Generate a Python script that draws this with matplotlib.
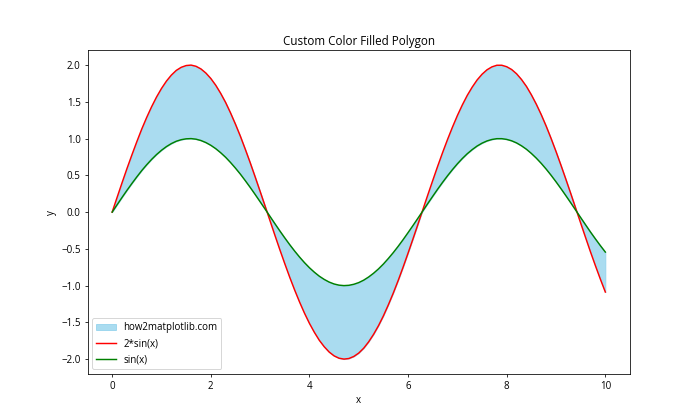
import matplotlib
matplotlib.use('Agg')
import matplotlib.pyplot as plt

plt.rcParams['font.family'] = ['Open Sans', 'DejaVu Sans']

# x positions read along the axis (step 0.1)
x = [0.0, 0.1, 0.2, 0.3, 0.4, 0.5, 0.6, 0.7, 0.8, 0.9,
     1.0, 1.1, 1.2, 1.3, 1.4, 1.5, 1.6, 1.7, 1.8, 1.9,
     2.0, 2.1, 2.2, 2.3, 2.4, 2.5, 2.6, 2.7, 2.8, 2.9,
     3.0, 3.1, 3.2, 3.3, 3.4, 3.5, 3.6, 3.7, 3.8, 3.9,
     4.0, 4.1, 4.2, 4.3, 4.4, 4.5, 4.6, 4.7, 4.8, 4.9,
     5.0, 5.1, 5.2, 5.3, 5.4, 5.5, 5.6, 5.7, 5.8, 5.9,
     6.0, 6.1, 6.2, 6.3, 6.4, 6.5, 6.6, 6.7, 6.8, 6.9,
     7.0, 7.1, 7.2, 7.3, 7.4, 7.5, 7.6, 7.7, 7.8, 7.9,
     8.0, 8.1, 8.2, 8.3, 8.4, 8.5, 8.6, 8.7, 8.8, 8.9,
     9.0, 9.1, 9.2, 9.3, 9.4, 9.5, 9.6, 9.7, 9.8, 9.9,
     10.0]

# green curve, sin(x)
y_sin = [0.000, 0.100, 0.199, 0.296, 0.389, 0.479, 0.565, 0.644, 0.717, 0.783,
         0.841, 0.891, 0.932, 0.964, 0.985, 0.997, 1.000, 0.992, 0.974, 0.946,
         0.909, 0.863, 0.808, 0.746, 0.675, 0.598, 0.516, 0.427, 0.335, 0.239,
         0.141, 0.042, -0.058, -0.158, -0.256, -0.351, -0.443, -0.530, -0.612, -0.688,
         -0.757, -0.818, -0.872, -0.916, -0.952, -0.978, -0.994, -1.000, -0.996, -0.982,
         -0.959, -0.926, -0.883, -0.832, -0.773, -0.706, -0.631, -0.551, -0.465, -0.374,
         -0.279, -0.182, -0.083, 0.017, 0.117, 0.215, 0.312, 0.405, 0.494, 0.578,
         0.657, 0.729, 0.794, 0.850, 0.899, 0.938, 0.968, 0.988, 0.999, 0.999,
         0.989, 0.970, 0.941, 0.902, 0.855, 0.798, 0.734, 0.663, 0.585, 0.501,
         0.412, 0.319, 0.223, 0.125, 0.025, -0.075, -0.174, -0.272, -0.366, -0.457,
         -0.544]

# red curve, 2*sin(x)
y_2sin = [0.000, 0.200, 0.398, 0.592, 0.778, 0.958, 1.130, 1.288, 1.434, 1.566,
          1.682, 1.782, 1.864, 1.928, 1.970, 1.994, 2.000, 1.984, 1.948, 1.892,
          1.818, 1.726, 1.616, 1.492, 1.350, 1.196, 1.032, 0.854, 0.670, 0.478,
          0.282, 0.084, -0.116, -0.316, -0.512, -0.702, -0.886, -1.060, -1.224, -1.376,
          -1.514, -1.636, -1.744, -1.832, -1.904, -1.956, -1.988, -2.000, -1.992, -1.964,
          -1.918, -1.852, -1.766, -1.664, -1.546, -1.412, -1.262, -1.102, -0.930, -0.748,
          -0.558, -0.364, -0.166, 0.034, 0.234, 0.430, 0.624, 0.810, 0.988, 1.156,
          1.314, 1.458, 1.588, 1.700, 1.798, 1.876, 1.936, 1.976, 1.998, 1.998,
          1.978, 1.940, 1.882, 1.804, 1.710, 1.596, 1.468, 1.326, 1.170, 1.002,
          0.824, 0.638, 0.446, 0.250, 0.050, -0.150, -0.348, -0.544, -0.732, -0.914,
          -1.088]

fig, ax = plt.subplots(figsize=(10, 6), dpi=70)

# fill between the two curves
ax.fill_between(x, y_2sin, y_sin, color='skyblue', alpha=0.7, label='how2matplotlib.com')
ax.plot(x, y_2sin, color='red', label='2*sin(x)')
ax.plot(x, y_sin, color='green', label='sin(x)')

ax.set_title('Custom Color Filled Polygon')
ax.set_xlabel('x')
ax.set_ylabel('y')
ax.legend(loc='lower left')

plt.savefig('out.png')
